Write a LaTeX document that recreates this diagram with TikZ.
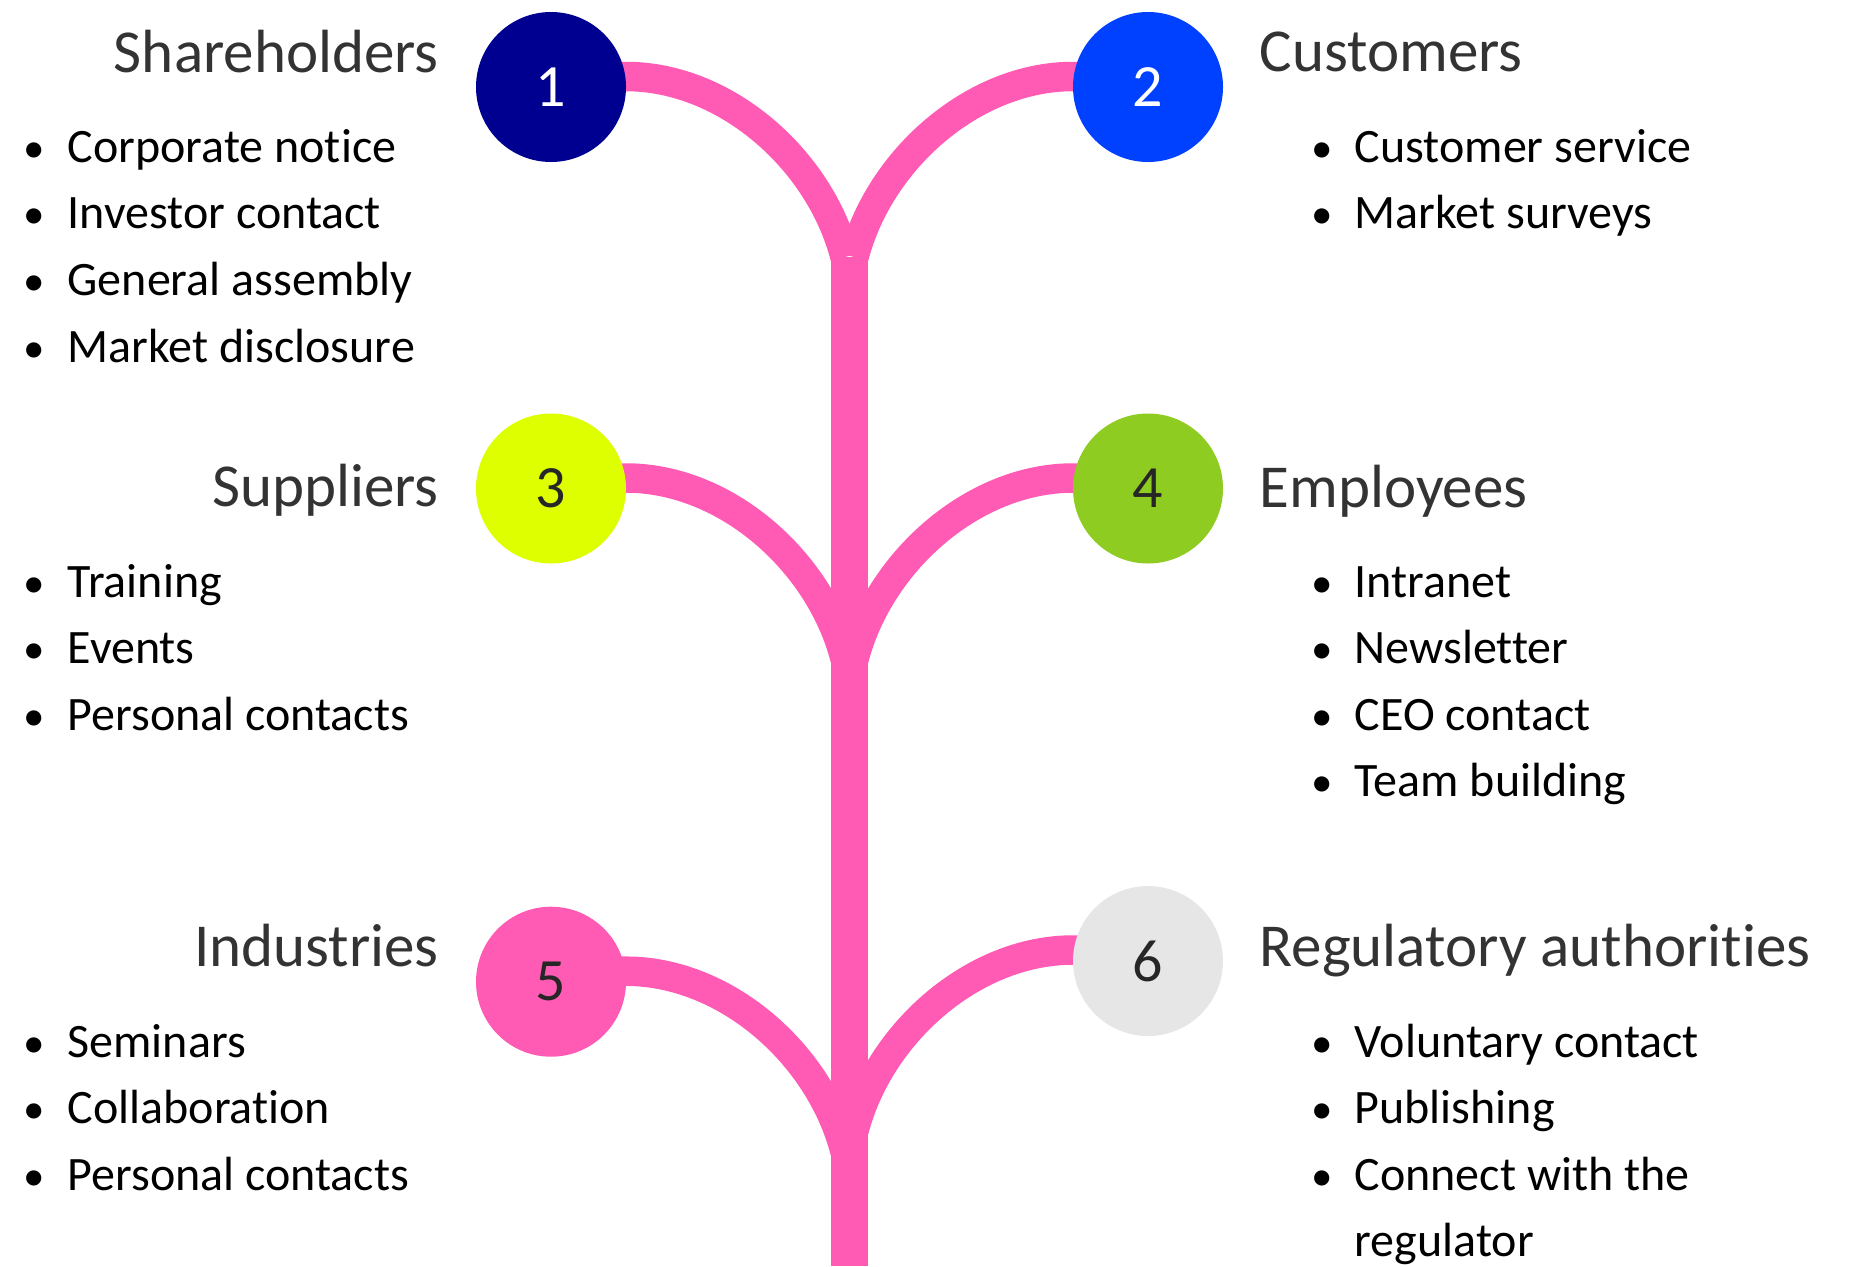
\documentclass[tikz,border=0pt]{standalone}
\usepackage{fontspec}
\setmainfont{Carlito}[Ligatures={NoCommon}]
\usetikzlibrary{backgrounds}
\definecolor{pinkc}{HTML}{FF5AB4}
\definecolor{navyc}{HTML}{000090}
\definecolor{bluec}{HTML}{0040FF}
\definecolor{yelc}{HTML}{DDFF00}
\definecolor{greenc}{HTML}{8FCC22}
\definecolor{grayc}{HTML}{E6E6E6}
\definecolor{titlec}{HTML}{333333}
\definecolor{numc}{HTML}{262626}
\tikzset{
  disc/.style={circle, minimum size=150pt, inner sep=0pt, outer sep=0pt, font=\fontsize{60}{60}\selectfont},
  branch/.style={draw=pinkc, line width=29.5pt, line cap=butt},
  trunkline/.style={draw=pinkc, line width=37pt, line cap=butt},
  ttl/.style={inner sep=0pt, text=titlec, font=\fontsize{61}{72}\selectfont},
  itm/.style={inner sep=0pt, anchor=base west, text=black, font=\fontsize{48}{57}\selectfont},
  bul/.style={inner sep=0pt, anchor=base, text=black, font=\fontsize{43}{57}\selectfont},
}
\begin{document}
\begin{tikzpicture}[x=1pt,y=-1pt]
\useasboundingbox (0,0) rectangle (1852,1266);
% circles
\node[disc, fill=navyc, text=white] (c1) at (551,87) {1};
\node[disc, fill=bluec, text=white] (c2) at (1148,87) {2};
\node[disc, fill=yelc, text=numc] (c3) at (551,488.5) {3};
\node[disc, fill=greenc, text=numc] (c4) at (1148,488.5) {4};
\node[disc, fill=pinkc, text=numc] (c5) at (551,981.7) {5};
\node[disc, fill=grayc, text=numc] (c6) at (1148,961) {6};
% junction coordinates
\coordinate (j1) at (845,257);
\coordinate (j2) at (854,257);
\coordinate (j3) at (845,658.5);
\coordinate (j4) at (854,659);
\coordinate (j5) at (845,1151.5);
\coordinate (j6) at (854,1130.5);
\coordinate (ttop) at (849.5,257);
\coordinate (tbot) at (849.5,1266);
\begin{scope}[on background layer]
  \draw[trunkline] (ttop) -- (tbot);
  \draw[branch] ([yshift=10.5pt]c1.center) -- ([yshift=10.5pt]c1.east) .. controls +(100,0) and +(-25,-97) .. (j1);
  \draw[branch] ([yshift=10.5pt]c2.center) -- ([yshift=10.5pt]c2.west) .. controls +(-100,0) and +(25,-97) .. (j2);
  \draw[branch] ([yshift=10.5pt]c3.center) -- ([yshift=10.5pt]c3.east) .. controls +(100,0) and +(-25,-97) .. (j3);
  \draw[branch] ([yshift=10.5pt]c4.center) -- ([yshift=10.5pt]c4.west) .. controls +(-100,0) and +(25,-97) .. (j4);
  \draw[branch] ([yshift=10.5pt]c5.center) -- ([yshift=10.5pt]c5.east) .. controls +(100,0) and +(-25,-97) .. (j5);
  \draw[branch] ([yshift=11pt]c6.center) -- ([yshift=11pt]c6.west) .. controls +(-100,0) and +(25,-97) .. (j6);
\end{scope}
% titles
\node[ttl, anchor=base east] (t1) at (439,72) {Shareholders};
\node[ttl, anchor=base west] (t2) at (1259.5,71) {Customers};
\node[ttl, anchor=base east] (t3) at (439,506) {Suppliers};
\node[ttl, anchor=base west] (t4) at (1259.5,507) {Employees};
\node[ttl, anchor=base east] (t5) at (439,966) {Industries};
\node[ttl, anchor=base west] (t6) at (1259.5,966) {Regulatory authorities};
% left items
\node[bul] (b11) at (34,162) {•};   \node[itm] (i11) at (67.5,162) {Corporate notice};
\node[bul] (b12) at (34,228.7) {•}; \node[itm] (i12) at (67.5,228.7) {Investor contact};
\node[bul] (b13) at (34,295.4) {•}; \node[itm] (i13) at (67.5,295.4) {General assembly};
\node[bul] (b14) at (34,362) {•};   \node[itm] (i14) at (67.5,362) {Market disclosure};
\node[bul] (b31) at (34,597) {•};   \node[itm] (i31) at (67.5,597) {Training};
\node[bul] (b32) at (34,663.5) {•}; \node[itm] (i32) at (67.5,663.5) {Events};
\node[bul] (b33) at (34,730) {•};   \node[itm] (i33) at (67.5,730) {Personal contacts};
\node[bul] (b51) at (34,1057) {•};  \node[itm] (i51) at (67.5,1057) {Seminars};
\node[bul] (b52) at (34,1123.5) {•};\node[itm] (i52) at (67.5,1123.5) {Collaboration};
\node[bul] (b53) at (34,1190) {•};  \node[itm] (i53) at (67.5,1190) {Personal contacts};
% right items
\node[bul] (b21) at (1322,162) {•};   \node[itm] (i21) at (1354.5,162) {Customer service};
\node[bul] (b22) at (1322,228.7) {•}; \node[itm] (i22) at (1354.5,228.7) {Market surveys};
\node[bul] (b41) at (1322,597) {•};   \node[itm] (i41) at (1354.5,597) {Intranet};
\node[bul] (b42) at (1322,663.5) {•}; \node[itm] (i42) at (1354.5,663.5) {Newsletter};
\node[bul] (b43) at (1322,730) {•};   \node[itm] (i43) at (1354.5,730) {CEO contact};
\node[bul] (b44) at (1322,796.5) {•}; \node[itm] (i44) at (1354.5,796.5) {Team building};
\node[bul] (b61) at (1322,1057) {•};  \node[itm] (i61) at (1354.5,1057) {Voluntary contact};
\node[bul] (b62) at (1322,1123.5) {•};\node[itm] (i62) at (1354.5,1123.5) {Publishing};
\node[bul] (b63) at (1322,1190) {•};  \node[itm] (i63) at (1354.5,1190) {Connect with the};
\node[itm] (i64) at (1354.5,1256.5) {regulator};
\end{tikzpicture}
\end{document}
